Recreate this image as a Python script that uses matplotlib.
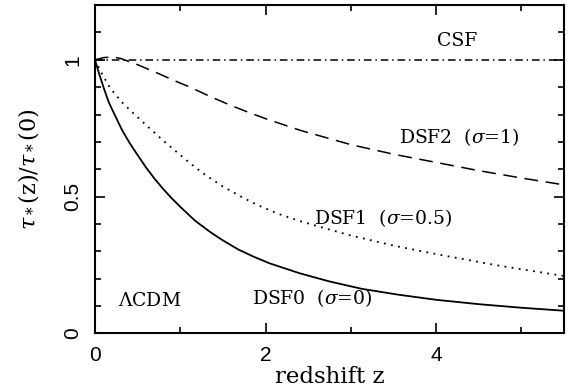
import matplotlib
matplotlib.use("Agg")
import matplotlib.pyplot as plt
from matplotlib.ticker import MultipleLocator

# values
z_dsf0 = [0, 0.05, 0.1, 0.16, 0.23, 0.32, 0.41, 0.5, 0.6, 0.7, 0.8, 0.9, 1.0,
          1.17, 1.35, 1.5, 1.68, 1.85, 2.05, 2.4, 2.75, 3.13, 3.55, 4.0, 4.5,
          5.0, 5.5]
tau_dsf0 = [1.0, 0.948, 0.9, 0.846, 0.8, 0.742, 0.694, 0.652, 0.606, 0.565, 0.528,
            0.494, 0.463, 0.413, 0.371, 0.34, 0.307, 0.282, 0.256, 0.22, 0.19,
            0.163, 0.142, 0.123, 0.107, 0.094, 0.083]

z_dsf1 = [0, 0.08, 0.172, 0.3, 0.466, 0.64, 0.818, 0.97, 1.115, 1.3, 1.5, 1.7,
          1.9, 2.15, 2.4, 2.7, 3.0, 3.5, 4.0, 4.75, 5.5]
tau_dsf1 = [1.0, 0.95, 0.9, 0.85, 0.8, 0.75, 0.7, 0.66, 0.622, 0.578, 0.537, 0.502,
            0.47, 0.437, 0.411, 0.384, 0.358, 0.321, 0.29, 0.247, 0.21]

z_dsf2 = [0, 0.1, 0.2, 0.3, 0.5, 0.7, 0.9, 1.115, 1.35, 1.58, 1.8, 2.0, 2.41,
          3.0, 3.5, 4.0, 4.5, 5.0, 5.5]
tau_dsf2 = [1.0, 1.008, 1.01, 1.005, 0.982, 0.956, 0.928, 0.90, 0.866, 0.835,
            0.808, 0.785, 0.742, 0.69, 0.655, 0.625, 0.595, 0.568, 0.543]

z_csf = [0, 5.5]
tau_csf = [1.0, 1.0]

labels = ["CSF", r"DSF2  ($\sigma$=1)", r"DSF1  ($\sigma$=0.5)",
          r"DSF0  ($\sigma$=0)", r"$\Lambda$CDM"]
label_x = [4.25, 4.27, 3.38, 2.55, 0.645]
label_y = [1.07, 0.717, 0.42, 0.13, 0.12]

plt.rcParams["mathtext.fontset"] = "dejavuserif"
plt.rcParams["font.family"] = "DejaVu Serif"

fig = plt.figure(figsize=(5.72, 3.9), dpi=100)
ax = fig.add_axes([0.166, 0.145, 0.82, 0.842])

ax.plot(z_dsf0, tau_dsf0, color="black", lw=1.3)
ax.plot(z_dsf1, tau_dsf1, color="black", lw=1.3, linestyle=(0, (1, 3.0)))
ax.plot(z_dsf2, tau_dsf2, color="black", lw=1.1, linestyle=(0, (9, 5)))
ax.plot(z_csf, tau_csf, color="black", lw=1.1, linestyle=(0, (5, 2.5, 1, 2.5)))

for txt, x, y in zip(labels, label_x, label_y):
    ax.text(x, y, txt, ha="center", va="center", fontsize=13.5)

ax.set_xlim(0, 5.5)
ax.set_ylim(0, 1.2)

ax.xaxis.set_minor_locator(MultipleLocator(1))
ax.yaxis.set_minor_locator(MultipleLocator(0.1))
ax.set_xticks([0, 2, 4])
ax.set_xticklabels(["0", "2", "4"])
ax.set_yticks([0, 0.5, 1])
ax.set_yticklabels(["0", "0.5", "1"], rotation=90, va="center")

ax.tick_params(which="both", direction="in", top=True, right=True, width=1.2,
               labelsize=15, pad=9)
ax.tick_params(which="major", length=7)
ax.tick_params(which="minor", length=4)
for lab in ax.get_xticklabels() + ax.get_yticklabels():
    lab.set_family("Liberation Sans")

for spine in ax.spines.values():
    spine.set_linewidth(1.5)

ax.set_xlabel("redshift z", fontsize=16.5, labelpad=1)
ax.set_ylabel(r"$\tau_*(\mathrm{z})/\tau_*(0)$", fontsize=16, labelpad=16)

fig.savefig("out.png", dpi=100)
